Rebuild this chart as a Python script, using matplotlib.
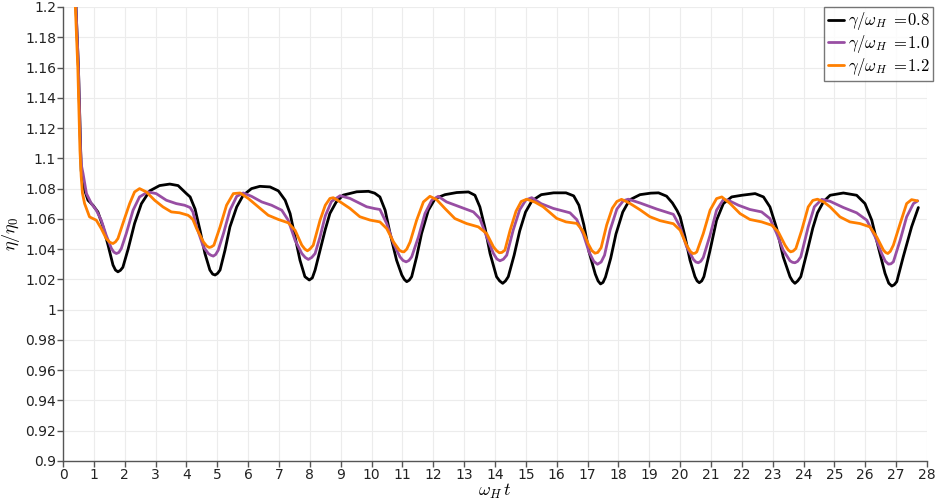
import matplotlib
matplotlib.use("Agg")
import matplotlib.pyplot as plt
from matplotlib.ticker import FuncFormatter

# ---- data ----
t_08 = [0.40, 0.44, 0.50, 0.54, 0.57, 0.59, 0.63, 0.70, 0.81, 0.97, 1.13, 1.30, 1.46, 1.62, 1.70, 1.78, 1.86, 1.94, 2.11, 2.32, 2.54, 2.81, 3.13, 3.46, 3.73, 4.00, 4.12, 4.21, 4.28, 4.44, 4.60, 4.76, 4.85, 4.93, 5.01, 5.09, 5.25, 5.41, 5.63, 5.84, 6.11, 6.38, 6.71, 6.98, 7.20, 7.36, 7.52, 7.68, 7.84, 7.98, 8.08, 8.17, 8.33, 8.50, 8.65, 8.85, 9.08, 9.52, 9.90, 10.10, 10.27, 10.44, 10.60, 10.81, 10.98, 11.06, 11.14, 11.22, 11.30, 11.46, 11.62, 11.84, 12.06, 12.38, 12.76, 13.14, 13.35, 13.51, 13.68, 13.84, 14.05, 14.15, 14.25, 14.34, 14.43, 14.62, 14.80, 14.99, 15.20, 15.50, 15.90, 16.30, 16.55, 16.72, 16.88, 17.05, 17.25, 17.34, 17.42, 17.50, 17.58, 17.75, 17.92, 18.14, 18.36, 18.70, 19.05, 19.30, 19.56, 19.75, 19.90, 20.00, 20.16, 20.32, 20.48, 20.55, 20.62, 20.70, 20.77, 20.97, 21.18, 21.40, 21.67, 22.00, 22.43, 22.70, 22.91, 23.13, 23.34, 23.56, 23.64, 23.72, 23.81, 23.91, 24.10, 24.30, 24.45, 24.65, 24.86, 25.29, 25.72, 25.99, 26.21, 26.42, 26.64, 26.76, 26.86, 26.94, 27.02, 27.23, 27.50, 27.72]
e_08 = [1.212, 1.190, 1.160, 1.130, 1.105, 1.092, 1.084, 1.079, 1.0723, 1.069, 1.0646, 1.0547, 1.0426, 1.0295, 1.0262, 1.025, 1.026, 1.028, 1.040, 1.057, 1.070, 1.0785, 1.082, 1.083, 1.082, 1.0767, 1.0745, 1.070, 1.0665, 1.0525, 1.0371, 1.0262, 1.0235, 1.0229, 1.024, 1.0262, 1.0393, 1.0547, 1.0679, 1.0756, 1.080, 1.0815, 1.0811, 1.0785, 1.0723, 1.0635, 1.0481, 1.0327, 1.0218, 1.0196, 1.021, 1.0262, 1.0393, 1.053, 1.0636, 1.071, 1.0757, 1.0779, 1.0782, 1.0770, 1.0745, 1.0657, 1.0503, 1.0327, 1.0229, 1.020, 1.0185, 1.0195, 1.0218, 1.0349, 1.0503, 1.0657, 1.0734, 1.076, 1.0774, 1.0778, 1.0756, 1.0679, 1.0536, 1.0371, 1.0218, 1.019, 1.0174, 1.019, 1.0218, 1.036, 1.052, 1.0645, 1.0720, 1.0760, 1.0772, 1.0772, 1.0752, 1.0690, 1.0560, 1.038, 1.0235, 1.019, 1.0170, 1.018, 1.0215, 1.034, 1.050, 1.0645, 1.0725, 1.0760, 1.0770, 1.0772, 1.0750, 1.0705, 1.0655, 1.0613, 1.0481, 1.0327, 1.0218, 1.019, 1.0178, 1.019, 1.0218, 1.0393, 1.0591, 1.0701, 1.0745, 1.0756, 1.0767, 1.0745, 1.0679, 1.0536, 1.0349, 1.0218, 1.019, 1.0174, 1.019, 1.0218, 1.0371, 1.054, 1.064, 1.0715, 1.0756, 1.0771, 1.0756, 1.0701, 1.0591, 1.0415, 1.024, 1.0175, 1.0156, 1.0165, 1.0185, 1.0349, 1.0547, 1.0675]

t_10 = [0.40, 0.44, 0.50, 0.54, 0.57, 0.60, 0.65, 0.76, 0.92, 1.08, 1.24, 1.40, 1.57, 1.65, 1.73, 1.81, 1.89, 2.05, 2.27, 2.48, 2.75, 3.02, 3.35, 3.67, 3.94, 4.12, 4.21, 4.33, 4.55, 4.71, 4.79, 4.87, 4.95, 5.03, 5.20, 5.41, 5.63, 5.84, 6.11, 6.44, 6.76, 7.09, 7.30, 7.52, 7.74, 7.85, 7.95, 8.06, 8.17, 8.33, 8.50, 8.70, 8.98, 9.30, 9.84, 10.10, 10.27, 10.49, 10.71, 10.92, 11.02, 11.12, 11.21, 11.30, 11.52, 11.73, 11.95, 12.16, 12.43, 12.87, 13.30, 13.51, 13.73, 13.95, 14.06, 14.16, 14.27, 14.38, 14.59, 14.80, 15.00, 15.19, 15.50, 15.89, 16.43, 16.65, 16.86, 17.05, 17.20, 17.32, 17.44, 17.55, 17.73, 17.95, 18.16, 18.32, 18.70, 19.24, 19.78, 20.00, 20.21, 20.43, 20.51, 20.59, 20.67, 20.75, 20.97, 21.18, 21.40, 21.56, 21.89, 22.26, 22.64, 22.91, 23.13, 23.34, 23.56, 23.64, 23.72, 23.81, 23.91, 24.15, 24.35, 24.59, 24.86, 25.29, 25.72, 26.05, 26.32, 26.53, 26.65, 26.75, 26.83, 26.91, 27.13, 27.34, 27.56, 27.70]
e_10 = [1.212, 1.190, 1.160, 1.130, 1.105, 1.095, 1.0899, 1.0767, 1.0701, 1.0657, 1.0591, 1.0492, 1.0404, 1.038, 1.0371, 1.0378, 1.0404, 1.0503, 1.0657, 1.0745, 1.0778, 1.0767, 1.0723, 1.0701, 1.069, 1.0675, 1.0646, 1.0547, 1.0415, 1.0371, 1.036, 1.0354, 1.0365, 1.0393, 1.0503, 1.0657, 1.0749, 1.0771, 1.0749, 1.0712, 1.069, 1.0657, 1.0591, 1.0459, 1.0371, 1.0345, 1.0332, 1.0345, 1.0371, 1.0481, 1.062, 1.0715, 1.0753, 1.0735, 1.068, 1.0668, 1.0662, 1.0569, 1.0437, 1.0349, 1.0325, 1.0316, 1.0325, 1.0349, 1.0481, 1.0635, 1.0723, 1.0749, 1.0712, 1.0679, 1.0646, 1.0602, 1.0481, 1.0371, 1.0335, 1.0323, 1.0333, 1.036, 1.0526, 1.066, 1.0725, 1.0740, 1.070, 1.0669, 1.064, 1.0595, 1.050, 1.038, 1.0320, 1.0300, 1.0315, 1.036, 1.0526, 1.0665, 1.0720, 1.0730, 1.0705, 1.0665, 1.0630, 1.0547, 1.0415, 1.0332, 1.0315, 1.031, 1.032, 1.0345, 1.0492, 1.0657, 1.0727, 1.0723, 1.069, 1.0662, 1.0646, 1.0602, 1.0503, 1.0393, 1.0323, 1.0313, 1.031, 1.032, 1.0349, 1.0547, 1.068, 1.0729, 1.0716, 1.0675, 1.064, 1.0591, 1.0481, 1.0371, 1.0320, 1.0301, 1.0303, 1.0316, 1.0459, 1.0613, 1.0701, 1.0719]

t_12 = [0.38, 0.42, 0.48, 0.52, 0.55, 0.59, 0.63, 0.70, 0.86, 1.08, 1.24, 1.40, 1.52, 1.62, 1.70, 1.78, 1.94, 2.16, 2.32, 2.48, 2.70, 2.97, 3.24, 3.51, 3.78, 4.05, 4.12, 4.21, 4.33, 4.55, 4.66, 4.74, 4.81, 4.89, 5.09, 5.30, 5.52, 5.74, 6.01, 6.33, 6.65, 6.98, 7.30, 7.52, 7.74, 7.84, 7.92, 8.00, 8.11, 8.33, 8.50, 8.65, 8.76, 9.00, 9.30, 9.62, 9.95, 10.27, 10.49, 10.71, 10.90, 10.98, 11.05, 11.14, 11.25, 11.46, 11.68, 11.89, 12.11, 12.38, 12.70, 13.08, 13.46, 13.73, 13.95, 14.05, 14.14, 14.22, 14.32, 14.49, 14.68, 14.85, 15.03, 15.30, 15.56, 16.00, 16.30, 16.65, 16.85, 17.02, 17.14, 17.24, 17.33, 17.44, 17.62, 17.80, 17.95, 18.10, 18.35, 18.70, 19.02, 19.35, 19.78, 20.00, 20.21, 20.33, 20.41, 20.48, 20.54, 20.75, 20.97, 21.18, 21.35, 21.62, 21.94, 22.26, 22.64, 22.97, 23.18, 23.40, 23.50, 23.58, 23.66, 23.75, 23.94, 24.15, 24.30, 24.45, 24.65, 24.86, 25.18, 25.50, 25.83, 26.15, 26.37, 26.59, 26.66, 26.73, 26.81, 26.91, 27.13, 27.34, 27.50, 27.69]
e_12 = [1.212, 1.190, 1.160, 1.130, 1.105, 1.088, 1.077, 1.0701, 1.0613, 1.0591, 1.0536, 1.047, 1.0445, 1.0437, 1.0448, 1.047, 1.0569, 1.0701, 1.0778, 1.080, 1.0778, 1.0723, 1.0679, 1.0646, 1.064, 1.0624, 1.0613, 1.0595, 1.0536, 1.0448, 1.042, 1.0411, 1.0415, 1.0426, 1.0547, 1.069, 1.0767, 1.0771, 1.0734, 1.0679, 1.0624, 1.0596, 1.0574, 1.0525, 1.0426, 1.040, 1.0389, 1.040, 1.0426, 1.0591, 1.0690, 1.0735, 1.074, 1.071, 1.0669, 1.0614, 1.0592, 1.058, 1.0536, 1.0448, 1.0393, 1.0384, 1.0382, 1.040, 1.0448, 1.0591, 1.0712, 1.0749, 1.0727, 1.0668, 1.0602, 1.0569, 1.0547, 1.0503, 1.0415, 1.039, 1.0376, 1.0378, 1.0393, 1.0525, 1.065, 1.0715, 1.0730, 1.071, 1.068, 1.0603, 1.0580, 1.057, 1.0520, 1.0435, 1.039, 1.0373, 1.0378, 1.041, 1.0560, 1.0670, 1.0715, 1.0729, 1.0705, 1.066, 1.0614, 1.0588, 1.0568, 1.0525, 1.0426, 1.0385, 1.0371, 1.0373, 1.0382, 1.0503, 1.0657, 1.0734, 1.0745, 1.0701, 1.0635, 1.0596, 1.058, 1.0558, 1.0514, 1.0426, 1.0395, 1.0382, 1.0387, 1.0404, 1.0525, 1.0679, 1.0722, 1.0730, 1.0712, 1.0679, 1.0613, 1.058, 1.0569, 1.0547, 1.0481, 1.0393, 1.0378, 1.0371, 1.0385, 1.0426, 1.0569, 1.0701, 1.0727, 1.0719]

series_labels = [r"$\gamma/\omega_H\ =\!0.8$", r"$\gamma/\omega_H\ =\!1.0$", r"$\gamma/\omega_H\ =\!1.2$"]
series_colors = ["#000000", "#984ea3", "#ff7f00"]

x_ticks = list(range(0, 29))
y_ticks = [0.9 + 0.02 * i for i in range(16)]

plt.rcParams['mathtext.fontset'] = 'cm'
plt.rcParams['font.family'] = ['DejaVu Sans']

fig = plt.figure(figsize=(9.35, 5.01), dpi=100)
ax = fig.add_axes([63 / 935, 1 - 461 / 501, 864 / 935, 454 / 501])

for t, e, lab, col in zip([t_08, t_10, t_12], [e_08, e_10, e_12], series_labels, series_colors):
    ax.plot(t, e, color=col, lw=2.0, label=lab, solid_joinstyle='round', solid_capstyle='round')

ax.set_xlim(0, 28)
ax.set_ylim(0.9, 1.2)
ax.set_xticks(x_ticks)
ax.set_yticks(y_ticks)
ax.yaxis.set_major_formatter(FuncFormatter(lambda v, p: "%g" % round(v, 2)))
ax.grid(True, color="#ececec", lw=0.8)
ax.set_axisbelow(True)
for s in ["top", "right"]:
    ax.spines[s].set_visible(False)
for s in ["left", "bottom"]:
    ax.spines[s].set_color("#555555")
    ax.spines[s].set_linewidth(1.0)
ax.tick_params(axis="both", direction="out", length=4, width=1, color="#555555",
               labelsize=10, labelcolor="#222222", pad=1)

ax.set_xlabel(r"$\omega_H\, t$", fontsize=13)
ax.xaxis.set_label_coords(0.5, -0.047)
ax.set_ylabel(r"$\eta/\eta_0$", fontsize=13)
ax.yaxis.set_label_coords(-0.047, 0.5)

leg = ax.legend(loc="upper right", bbox_to_anchor=(1.007, 1.0), fontsize=12, frameon=True,
                fancybox=False, borderpad=0.2, handlelength=1.0, handletextpad=0.2,
                labelspacing=0.05, borderaxespad=0.0)
leg.get_frame().set_edgecolor("#555555")
leg.get_frame().set_linewidth(1.0)

fig.savefig("out.png", dpi=100)
